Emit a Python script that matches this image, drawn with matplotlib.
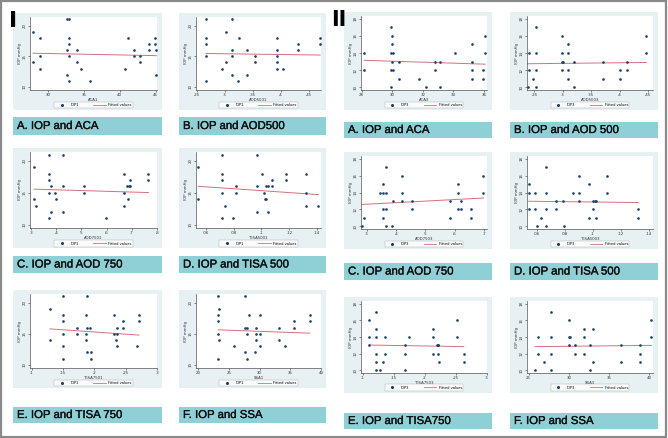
import matplotlib
matplotlib.use('Agg')
import matplotlib.pyplot as plt
import matplotlib.patheffects as pe
from matplotlib.patches import Rectangle
from matplotlib.lines import Line2D
from matplotlib.ticker import FuncFormatter

# ---- data (IOP in mmHg vs. angle parameter) ----
# Group I (IOP1)
aca1_x = [27.9, 27.9, 28.9, 28.9, 28.9, 32.65, 32.9, 32.65, 32.9, 32.9, 32.9, 32.65, 32.9, 34.0, 34.0,
          34.65, 35.9, 40.7, 41.2, 42.0, 42.0, 42.9, 42.9, 44.1, 44.1, 44.9, 44.9, 45.1, 45.1]
aca1_iop = [19, 14, 18, 15, 13, 21, 21, 16, 18, 17, 15, 12, 11, 16, 14,
            13, 11, 13, 18, 16, 15, 15, 14, 17, 16, 18, 17, 16, 12]
aca1_fit = [15.5, 15.1]

aod500_1_x = [0.2665, 0.3124, 0.2665, 0.2665, 0.3018, 0.3265, 0.3135, 0.34, 0.2665, 0.3018, 0.3135, 0.2947,
              0.3135, 0.3235, 0.34, 0.3547, 0.3547, 0.2665, 0.393, 0.393, 0.393, 0.393, 0.393, 0.4047,
              0.4312, 0.4312, 0.4706, 0.4706]
aod500_1_iop = [21, 21, 18, 17, 19, 18, 16, 16, 15, 14, 15, 13,
                12, 11, 12, 15, 14, 11, 18, 16, 15, 14, 13, 13,
                17, 16, 18, 17]
aod500_1_fit = [15.45, 15.2]

aod750_1_x = [0.313, 0.313, 0.32, 0.373, 0.373, 0.373, 0.379, 0.373, 0.379, 0.373, 0.395, 0.399, 0.426, 0.426,
              0.426, 0.511, 0.511, 0.598, 0.671, 0.671, 0.671, 0.68, 0.684, 0.687, 0.691, 0.693, 0.766, 0.766]
aod750_1_iop = [19, 14, 13, 21, 18, 17, 16, 15, 12, 11, 15, 14, 21, 16,
                12, 16, 15, 11, 18, 15, 13, 16, 14, 16, 17, 16, 18, 17]
aod750_1_fit = [15.58, 15.05]

tisa500_1_x = [0.0546, 0.0546, 0.0717, 0.0717, 0.0717, 0.0717, 0.074, 0.0717, 0.0798, 0.0817, 0.0817,
               0.0968, 0.0968, 0.0968, 0.1001, 0.102, 0.1025, 0.1032, 0.1032, 0.105, 0.105, 0.1078, 0.1078,
               0.1178, 0.1178, 0.1323, 0.1323, 0.1323, 0.1409]
tisa500_1_iop = [19, 14, 21, 18, 17, 15, 13, 11, 11, 16, 15,
                 21, 16, 12, 18, 15, 14, 14, 16, 16, 12, 17, 16,
                 18, 17, 18, 15, 13, 13]
tisa500_1_fit = [16.03, 14.73]

tisa750_1_x = [0.1293, 0.1293, 0.1505, 0.1505, 0.1505, 0.1505, 0.1505, 0.1505, 0.1729, 0.1729, 0.1862,
               0.1862, 0.1862, 0.1888, 0.1888, 0.1931, 0.1888, 0.1941, 0.1952, 0.2314, 0.2314, 0.234,
               0.2356, 0.2367, 0.2367, 0.2463, 0.2463, 0.2686, 0.2713, 0.2713]
tisa750_1_iop = [19, 14, 21, 18, 17, 15, 13, 11, 16, 15, 18,
                 15, 14, 21, 16, 16, 12, 12, 11, 18, 15, 14,
                 13, 16, 15, 17, 16, 13, 18, 17]
tisa750_1_fit = [15.79, 14.79]

ssa1_x = [23.26, 23.26, 23.26, 23.26, 23.26, 23.42, 23.42, 25.79, 27.63, 27.63, 27.63, 27.89, 27.89, 27.89,
          28.26, 29.47, 29.47, 29.47, 29.32, 30.0, 30.0, 30.1, 33.16, 33.16, 34.21, 35.68, 35.68, 38.16, 38.16]
ssa1_iop = [21, 18, 17, 15, 11, 19, 14, 13, 21, 16, 12, 16, 15, 11,
            18, 16, 15, 14, 12, 18, 15, 13, 16, 14, 13, 17, 16, 18, 17]
ssa1_fit = [15.64, 15.1]

# Group II (IOP3)
aca3_x = [28.17, 28.17, 29.92, 29.99, 29.99, 29.92, 30.03, 29.99, 29.92, 30.03, 29.92, 30.43, 30.43, 31.78,
          32.22, 32.81, 32.81, 33.1, 33.1, 34.12, 35.23, 35.23, 35.23, 35.23, 35.93, 35.93, 36.09, 36.09]
aca3_iop = [14, 12, 17, 16, 15, 14, 14, 13, 12, 12, 10, 13, 11, 11,
            10, 13, 12, 13, 10, 14, 15, 13, 12, 11, 12, 11, 16, 14]
aca3_fit = [13.15, 12.7]

aod500_3_x = [0.238, 0.241, 0.241, 0.248, 0.253, 0.253, 0.253, 0.253, 0.298, 0.298, 0.298, 0.300, 0.298,
              0.310, 0.310, 0.310, 0.310, 0.320, 0.320, 0.371, 0.371, 0.401, 0.401, 0.413, 0.413, 0.447, 0.447]
aod500_3_iop = [10, 14, 12, 11, 17, 14, 12, 10, 16, 14, 13, 13, 12,
                15, 14, 12, 11, 13, 10, 13, 11, 12, 11, 13, 12, 16, 14]
aod500_3_fit = [12.75, 12.9]

aod750_3_x = [0.283, 0.291, 0.345, 0.355, 0.355, 0.355, 0.355, 0.366, 0.366, 0.366, 0.366, 0.387, 0.389,
              0.42, 0.42, 0.42, 0.454, 0.454, 0.583, 0.583, 0.611, 0.611, 0.611, 0.622, 0.622, 0.656, 0.656,
              0.698, 0.698]
aod750_3_iop = [10, 11, 14, 15, 14, 12, 11, 17, 14, 12, 10, 10, 13,
                16, 14, 13, 13, 12, 13, 11, 15, 14, 12, 13, 12, 12, 11,
                16, 14]
aod750_3_fit = [12.59, 13.35]

tisa500_3_x = [0.0542, 0.0542, 0.0542, 0.0588, 0.0588, 0.06, 0.063, 0.0663, 0.0663, 0.0663, 0.0663, 0.074,
               0.074, 0.0787, 0.0791, 0.0857, 0.0899, 0.0899, 0.0899, 0.0973, 0.0973, 0.1003, 0.1003, 0.1013,
               0.1024, 0.1024, 0.1097, 0.1097, 0.1323, 0.1323]
tisa500_3_iop = [15, 14, 12, 14, 12, 10, 11, 17, 14, 12, 10, 13,
                 12, 13, 10, 14, 16, 14, 13, 15, 11, 13, 12, 13,
                 13, 11, 16, 14, 12, 11]
tisa500_3_fit = [12.97, 12.82]

tisa750_3_x = [0.1106, 0.1106, 0.1106, 0.1213, 0.1213, 0.1213, 0.1213, 0.1213, 0.1213, 0.1277, 0.133,
               0.1367, 0.1367, 0.1686, 0.1686, 0.1686, 0.1755, 0.2128, 0.2128, 0.2128, 0.2197, 0.2207,
               0.2218, 0.2207, 0.2234, 0.2516, 0.2516, 0.2633, 0.2633]
tisa750_3_iop = [16, 14, 13, 17, 15, 14, 12, 11, 10, 10, 11,
                 14, 12, 13, 12, 10, 14, 15, 14, 12, 13, 13,
                 13, 12, 11, 16, 14, 12, 11]
tisa750_3_fit = [13.04, 12.85]

ssa3_x = [25.82, 26.11, 26.11, 26.93, 27.75, 27.75, 27.75, 27.75, 30.0, 30.0, 30.12, 30.0, 30.82, 30.82,
          31.84, 31.84, 31.84, 32.58, 32.58, 32.99, 32.99, 36.43, 36.43, 38.89, 38.89, 38.89, 40.25, 40.25]
ssa3_iop = [10, 14, 12, 11, 17, 14, 12, 10, 16, 14, 14, 13, 13, 12,
            15, 14, 12, 13, 10, 15, 11, 13, 11, 13, 12, 11, 16, 14]
ssa3_fit = [12.85, 13.0]

# ---- layout (pixels) ----
W, H = 668, 438
fig = plt.figure(figsize=(W / 100, H / 100), dpi=100)
fig.patch.set_facecolor('white')

NAVY = '#1a3f66'
FITC = '#d6707a'
BG = '#e7f0f3'
TEAL = '#8fd0d6'


def box(x0, y0, x1, y1):
    return [x0 / W, 1 - y1 / H, (x1 - x0) / W, (y1 - y0) / H]


def fmt(v, pos):
    s = '%g' % v
    if s.startswith('0.'):
        s = s[1:]
    return s


col_x = [(13, 162), (179, 326), (344, 492), (510, 658)]
rows_I = [((13, 110), (117, 135)), ((148, 248), (256, 273)), ((290, 388), (407, 423))]
rows_II = [((12, 110), (122, 138)), ((152, 249), (263, 280)), ((297, 393), (413, 429))]

panels = [
    # (col, row, x, y, fit, xlabel, title, xlim, xticks)
    (0, 0, aca1_x, aca1_iop, aca1_fit, 'ACA1', 'A. IOP and ACA', (27.5, 45.2), [30, 35, 40, 45]),
    (1, 0, aod500_1_x, aod500_1_iop, aod500_1_fit, 'AOD5001', 'B. IOP and AOD500', (0.249, 0.472),
     [0.25, 0.3, 0.35, 0.4, 0.45]),
    (0, 1, aod750_1_x, aod750_1_iop, aod750_1_fit, 'AOD7501', 'C. IOP and AOD 750', (0.296, 0.799),
     [0.3, 0.4, 0.5, 0.6, 0.7, 0.8]),
    (1, 1, tisa500_1_x, tisa500_1_iop, tisa500_1_fit, 'TISA5001', 'D. IOP and TISA 500', (0.053, 0.1428),
     [0.06, 0.08, 0.1, 0.12, 0.14]),
    (0, 2, tisa750_1_x, tisa750_1_iop, tisa750_1_fit, 'TISA7501', 'E. IOP and TISA 750', (0.0973, 0.2995),
     [0.1, 0.15, 0.2, 0.25, 0.3]),
    (1, 2, ssa1_x, ssa1_iop, ssa1_fit, 'SSA1', 'F. IOP and SSA', (19.63, 39.84), [20, 25, 30, 35, 40]),
    (2, 0, aca3_x, aca3_iop, aca3_fit, 'ACA3', 'A. IOP and ACA', (27.96, 36.2), [28, 30, 32, 34, 36]),
    (3, 0, aod500_3_x, aod500_3_iop, aod500_3_fit, 'AOD5003', 'B. IOP and AOD 500', (0.237, 0.459),
     [0.25, 0.3, 0.35, 0.4, 0.45]),
    (2, 1, aod750_3_x, aod750_3_iop, aod750_3_fit, 'AOD7503', 'C. IOP and AOD 750', (0.28, 0.71),
     [0.3, 0.4, 0.5, 0.6, 0.7]),
    (3, 1, tisa500_3_x, tisa500_3_iop, tisa500_3_fit, 'TISA5003', 'D. IOP and TISA 500', (0.053, 0.1428),
     [0.06, 0.08, 0.1, 0.12, 0.14]),
    (2, 2, tisa750_3_x, tisa750_3_iop, tisa750_3_fit, 'TISA7503', 'E. IOP and TISA750', (0.0973, 0.3005),
     [0.1, 0.15, 0.2, 0.25, 0.3]),
    (3, 2, ssa3_x, ssa3_iop, ssa3_fit, 'SSA3', 'F. IOP and SSA', (24.8, 40.45), [25, 30, 35, 40]),
]

heavy = [pe.withStroke(linewidth=0.25, foreground='#111111')]

for col, row, xs, ys, fit, xlab, title, xlim, xticks in panels:
    group2 = col >= 2
    (by0, by1), (ly0, ly1) = (rows_II if group2 else rows_I)[row]
    bx0, bx1 = col_x[col]

    # Stata-like graph region (behind the axes)
    fig.patches.append(Rectangle((bx0 / W, 1 - by1 / H), (bx1 - bx0) / W, (by1 - by0) / H,
                                 transform=fig.transFigure, facecolor=BG, edgecolor='none', zorder=-2))

    ax = fig.add_axes(box(bx0 + 17, by0 + 4, bx1 - 5, by1 - 20))
    ax.set_facecolor('white')
    ax.scatter(xs, ys, s=3.6, color=NAVY, linewidths=0, zorder=3)
    ax.plot([min(xs), max(xs)], fit, color=FITC, lw=0.7, zorder=2)

    ax.set_xlim(*xlim)
    if group2:
        ax.set_ylim(9.7, 18.3)
        ax.set_yticks([10, 12, 14, 16, 18])
    else:
        ax.set_ylim(9.5, 21.4)
        ax.set_yticks([10, 15, 20])
    ax.set_xticks(xticks)
    ax.xaxis.set_major_formatter(FuncFormatter(fmt))
    for s in ['top', 'right']:
        ax.spines[s].set_visible(False)
    for s in ['left', 'bottom']:
        ax.spines[s].set_color('#555555')
        ax.spines[s].set_linewidth(0.5)
    ax.tick_params(length=1.5, width=0.4, pad=0.8, labelsize=2.8, colors='#333333')
    for lb in ax.get_yticklabels():
        lb.set_rotation(90)
        lb.set_va('center')
    ax.set_xlabel(xlab, fontsize=2.8, labelpad=0.3, color='#333333')
    ax.set_ylabel('IOP mmHg', fontsize=2.8, labelpad=0.8, color='#333333')

    handles = [Line2D([], [], marker='o', ms=1.2, ls='none', color=NAVY),
               Line2D([], [], color=FITC, lw=0.6)]
    leg = ax.legend(handles, ['IOP3' if group2 else 'IOP1', 'Fitted values'], loc='center',
                    bbox_to_anchor=(0.5, -0.205), ncol=2, fontsize=2.6, frameon=True, fancybox=False,
                    borderpad=0.35, handlelength=3.5, handletextpad=0.6, columnspacing=4.0)
    leg.get_frame().set_linewidth(0.3)
    leg.get_frame().set_edgecolor('#999999')

    # teal caption bar
    fig.patches.append(Rectangle((bx0 / W, 1 - ly1 / H), (bx1 - bx0) / W, (ly1 - ly0) / H,
                                 transform=fig.transFigure, facecolor=TEAL, edgecolor='none', zorder=-2))
    fig.text((bx0 + 4) / W, 1 - (ly0 + ly1) / 2 / H, title, fontsize=8.2, family='Liberation Sans',
             va='center', ha='left', color='#111111', path_effects=heavy)

fig.text(9 / W, 1 - 21 / H, 'I', fontsize=16, fontweight='bold', va='center', ha='left')
fig.text(331 / W, 1 - 20 / H, 'II', fontsize=15, fontweight='bold', va='center', ha='left')

fig.patches.append(Rectangle((0.002, 0.003), 0.995, 0.994, transform=fig.transFigure,
                             fill=False, edgecolor='#8a8a8a', lw=1.6, zorder=5))

fig.savefig('out.png', dpi=100)
